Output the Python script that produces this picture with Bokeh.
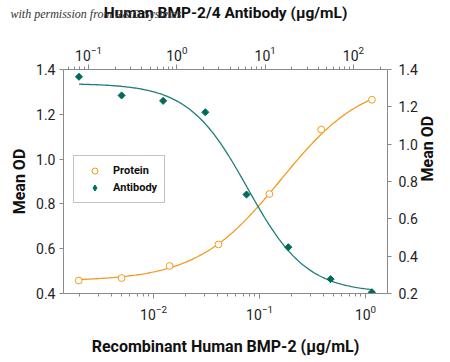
import math
import numpy as np
from bokeh.plotting import figure
from bokeh.models import (Range1d, LogScale, LogAxis, LinearAxis, FixedTicker, Title,
                          NumeralTickFormatter, Legend, LegendItem, LogTickFormatter)
from bokeh.embed import file_html
from bokeh.resources import INLINE

# ---- data ----
protein_conc = [0.00197, 0.0050, 0.0142, 0.041, 0.124, 0.382, 1.15]   # µg/mL, bottom axis
protein_od = [0.458, 0.469, 0.523, 0.619, 0.844, 1.132, 1.265]        # left axis
antibody_conc = [0.078, 0.237, 0.70, 2.10, 6.15, 18.3, 55.1, 161.5]   # µg/mL, top axis
antibody_od = [1.361, 1.261, 1.232, 1.171, 0.730, 0.448, 0.277, 0.207]  # right axis

# 4-parameter logistic fit parameters: bottom, top, log10(EC50), hill
protein_fit = [0.455, 1.36, -0.80, 1.10]
antibody_fit = [0.205, 1.325, 0.80, 1.30]

bottom_ticks = [1e-2, 1e-1, 1e0]
top_ticks = [1e-1, 1e0, 1e1, 1e2]
left_ticks = [0.4, 0.6, 0.8, 1.0, 1.2, 1.4]
right_ticks = [0.2, 0.4, 0.6, 0.8, 1.0, 1.2, 1.4]

ORANGE = "#F39A1E"
TEAL = "#006B5C"
TEAL_LINE = "#1E7D7A"
AXIS_GRAY = "#8a8a8a"
FONT = "Roboto"

p = figure(frame_width=324, frame_height=224, x_axis_type="log",
           x_range=Range1d(10 ** -2.849, 10 ** 0.2075), y_range=Range1d(0.4, 1.4),
           output_backend="svg", toolbar_location=None,
           min_border_left=63, min_border_right=62, min_border_top=69, min_border_bottom=68)
p.extra_x_ranges = {"top": Range1d(10 ** -1.283, 10 ** 2.385)}
p.extra_x_scales = {"top": LogScale()}
p.extra_y_ranges = {"right": Range1d(0.2, 1.4)}
p.grid.visible = False
p.outline_line_color = None
p.background_fill_color = "white"
p.border_fill_color = "white"


def minors(exps):
    return [k * 10.0 ** e for e in exps for k in range(2, 10)]


def style(ax, label_standoff, tick_standoff):
    ax.axis_line_color = AXIS_GRAY
    ax.major_tick_line_color = AXIS_GRAY
    ax.minor_tick_line_color = AXIS_GRAY
    ax.major_tick_out = 5
    ax.major_tick_in = 0
    ax.minor_tick_out = 3
    ax.minor_tick_in = 0
    ax.major_label_text_font = FONT
    ax.major_label_text_font_size = "14px"
    ax.major_label_text_color = "#222222"
    ax.major_label_standoff = tick_standoff
    ax.axis_label_text_font = FONT
    ax.axis_label_text_font_style = "bold"
    ax.axis_label_text_font_size = "16px"
    ax.axis_label_text_color = "#111111"
    ax.axis_label_standoff = label_standoff


# bottom axis
bx = p.xaxis[0]
bx.ticker = FixedTicker(ticks=bottom_ticks, minor_ticks=minors([-3, -2, -1, 0]))
bx.formatter = LogTickFormatter()
bx.axis_label = "Recombinant Human BMP-2 (μg/mL)"
style(bx, 14, 6)

# left axis
ly = p.yaxis[0]
ly.ticker = FixedTicker(ticks=left_ticks)
ly.formatter = NumeralTickFormatter(format="0.0")
ly.axis_label = "Mean OD"
style(ly, 4, 4)
ly.major_tick_out = 4

# top axis
tx = LogAxis(x_range_name="top",
             ticker=FixedTicker(ticks=top_ticks, minor_ticks=minors([-2, -1, 0, 1, 2])),
             formatter=LogTickFormatter(),
             axis_label="Human BMP-2/4 Antibody (μg/mL)")
style(tx, 21, 4)
tx.axis_label_text_font_size = "15.5px"
p.add_layout(tx, "above")

# right axis
ry = LinearAxis(y_range_name="right", ticker=FixedTicker(ticks=right_ticks),
                formatter=NumeralTickFormatter(format="0.0"), axis_label="Mean OD")
style(ry, 7, 7)
ry.major_tick_out = 4
try:
    ry.axis_label_orientation = math.pi / 2
except Exception:
    pass
p.add_layout(ry, "right")

# watermark text of the source image, lying under the top title
wm = Title(text="with permission from R&D Systems", align="left", offset=-53,
           standoff=-41, text_font="Liberation Serif", text_font_style="italic",
           text_font_size="12px", text_color="#333333", level="guide")
p.add_layout(wm, "above")

# fitted curves
b, t, c, h = protein_fit
xp = np.logspace(math.log10(min(protein_conc)), math.log10(max(protein_conc)), 200)
yp = b + (t - b) / (1 + 10 ** (h * (c - np.log10(xp))))
p.line(xp, yp, line_color=ORANGE, line_width=1.3)

b, t, c, h = antibody_fit
xa = np.logspace(math.log10(min(antibody_conc)), math.log10(max(antibody_conc)), 200)
ya = b + (t - b) / (1 + 10 ** (h * (np.log10(xa) - c)))
p.line(xa, ya, line_color=TEAL_LINE, line_width=1.3, x_range_name="top", y_range_name="right")

pc = p.scatter(protein_conc, protein_od, marker="circle", size=6.8,
               line_color=ORANGE, fill_color="white", line_width=1)
# diamond renderer (supplies the legend swatch; hidden under the rotated squares)
ac_key = p.scatter(antibody_conc, antibody_od, marker="diamond", size=4,
                   line_color=TEAL, fill_color=TEAL, x_range_name="top", y_range_name="right")
ac = p.scatter(antibody_conc, antibody_od, marker="square", angle=math.pi / 4, size=5,
               line_color=TEAL, fill_color=TEAL, x_range_name="top", y_range_name="right")

legend = Legend(items=[LegendItem(label="Protein", renderers=[pc]),
                       LegendItem(label="Antibody", renderers=[ac_key])],
                location=(10, 90), padding=7, spacing=2, glyph_width=27, glyph_height=15,
                label_height=14, label_standoff=5, margin=0,
                border_line_color="#888888", border_line_width=1,
                background_fill_color="white", background_fill_alpha=1,
                label_text_font=FONT, label_text_font_style="bold",
                label_text_font_size="11px", label_text_color="#111111")
p.add_layout(legend, "center")

open("out.html", "w").write(file_html(p, INLINE))
